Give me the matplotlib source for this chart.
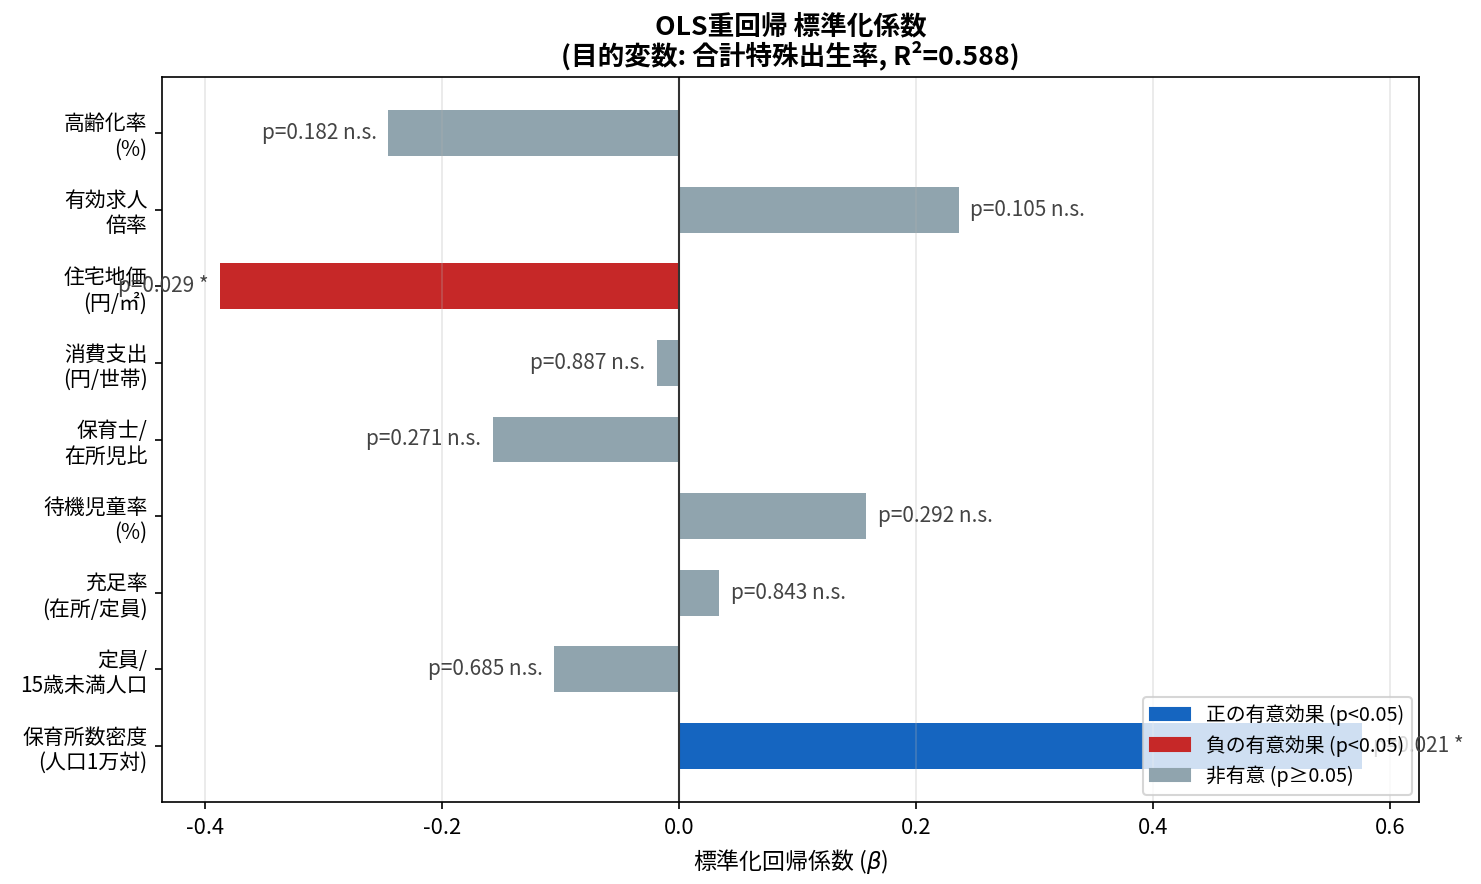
import matplotlib
matplotlib.use("Agg")
import matplotlib.pyplot as plt
from matplotlib.patches import Patch

plt.rcParams['font.family'] = ['Noto Sans CJK JP', 'DejaVu Sans']

# Data (top to bottom as displayed)
labels = ["高齢化率\n(%)", "有効求人\n倍率", "住宅地価\n(円/㎡)", "消費支出\n(円/世帯)",
          "保育士/\n在所児比", "待機児童率\n(%)", "充足率\n(在所/定員)",
          "定員/\n15歳未満人口", "保育所数密度\n(人口1万対)"]
betas = [-0.245, 0.236, -0.387, -0.018, -0.157, 0.158, 0.034, -0.105, 0.576]
pvals = [0.182, 0.105, 0.029, 0.887, 0.271, 0.292, 0.843, 0.685, 0.021]

C_POS = "#1565C0"
C_NEG = "#C62828"
C_NS = "#90A4AE"

fig = plt.figure(figsize=(1481/150, 884/150), dpi=150)
ax = fig.add_axes([162/1481, 1-802/884, (1419-162)/1481, (802-77)/884])

ypos = list(range(len(labels)))
colors = []
for b, p in zip(betas, pvals):
    if p < 0.05:
        colors.append(C_POS if b > 0 else C_NEG)
    else:
        colors.append(C_NS)

ax.barh(ypos, betas, height=0.6, color=colors)
ax.axvline(0, color="#333333", linewidth=1.0)

for y, b, p in zip(ypos, betas, pvals):
    txt = f"p={p:.3f} " + ("*" if p < 0.05 else "n.s.")
    if b >= 0:
        ax.text(b + 0.01, y, txt, ha="left", va="center", fontsize=10, color="#444444")
    else:
        ax.text(b - 0.01, y, txt, ha="right", va="center", fontsize=10, color="#444444")

ax.set_yticks(ypos)
ax.set_yticklabels(labels, fontsize=10)
ax.invert_yaxis()
ax.set_xlim(-0.436, 0.6245)
ax.set_xticks([-0.4, -0.2, 0.0, 0.2, 0.4, 0.6])
ax.set_xticklabels(["-0.4", "-0.2", "0.0", "0.2", "0.4", "0.6"], fontsize=10.5)
ax.grid(axis="x", color="#b0b0b0", alpha=0.3, linewidth=0.8)
ax.set_xlabel("標準化回帰係数 ($\\beta$)", fontsize=11, labelpad=4)
ax.set_title("OLS重回帰 標準化係数\n(目的変数: 合計特殊出生率, R²=0.588)",
             fontsize=12.8, fontweight="bold", pad=6, linespacing=1.02)

handles = [Patch(color=C_POS, label="正の有意効果 (p<0.05)"),
           Patch(color=C_NEG, label="負の有意効果 (p<0.05)"),
           Patch(color=C_NS, label="非有意 (p≥0.05)")]
ax.legend(handles=handles, loc="lower right", fontsize=9.5, borderaxespad=0.35,
          labelspacing=0.45, handleheight=0.6)

fig.savefig("out.png", dpi=150)
